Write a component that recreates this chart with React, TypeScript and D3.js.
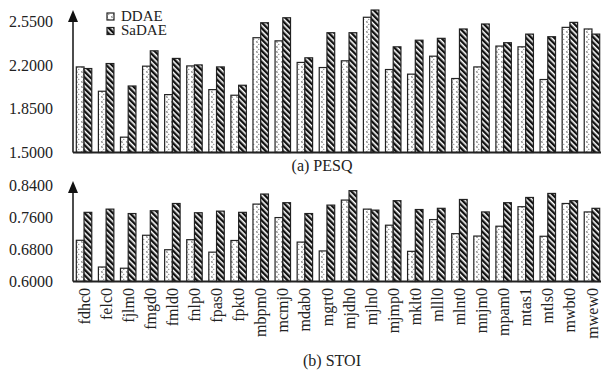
import * as d3 from "d3";

const speakers = [
  "fdhc0", "felc0", "fjlm0", "fmgd0", "fmld0", "fnlp0", "fpas0", "fpkt0",
  "mbpm0", "mcmj0", "mdab0", "mgrt0", "mjdh0", "mjln0", "mjmp0", "mklt0",
  "mlll0", "mlnt0", "mnjm0", "mpam0", "mtas1", "mtls0", "mwbt0", "mwew0",
];
const seriesNames = ["DDAE", "SaDAE"];

const pesqDDAE = [
  2.186, 1.991, 1.623, 2.192, 1.964, 2.194, 2.004, 1.959, 2.42, 2.395, 2.222, 2.181,
  2.235, 2.584, 2.165, 2.128, 2.272, 2.093, 2.186, 2.353, 2.347, 2.085, 2.503, 2.49,
];
const pesqSaDAE = [
  2.173, 2.213, 2.033, 2.315, 2.254, 2.202, 2.186, 2.039, 2.54, 2.58, 2.259, 2.46,
  2.46, 2.642, 2.347, 2.4, 2.415, 2.49, 2.53, 2.38, 2.449, 2.428, 2.543, 2.449,
];
const stoiDDAE = [
  0.7025, 0.636, 0.633, 0.715, 0.679, 0.704, 0.673, 0.702, 0.7925, 0.759, 0.698, 0.676,
  0.8025, 0.78, 0.74, 0.675, 0.754, 0.719, 0.713, 0.7375, 0.786, 0.7125, 0.794, 0.773,
];
const stoiSaDAE = [
  0.772, 0.78, 0.769, 0.776, 0.794, 0.771, 0.775, 0.772, 0.8175, 0.796, 0.769, 0.79,
  0.826, 0.7775, 0.801, 0.779, 0.782, 0.804, 0.773, 0.796, 0.809, 0.819, 0.801, 0.782,
];
const pesqTicks = [1.5, 1.85, 2.2, 2.55];
const stoiTicks = [0.6, 0.68, 0.76, 0.84];

const font = "'Liberation Serif', 'Times New Roman', serif";
const fills = ["url(#dots)", "url(#stripes)"];

const x = d3.scaleBand<string>().domain(speakers).range([73, 603]).paddingInner(0.3).paddingOuter(0.15);
const xs = d3.scaleBand<string>().domain(seriesNames).range([0, x.bandwidth()]);
const fmt = d3.format(".4f");

function Panel({ a, b, ticks, domain, range, arrowTip }: {
  a: number[]; b: number[]; ticks: number[]; domain: [number, number]; range: [number, number]; arrowTip: number;
}) {
  const y = d3.scaleLinear().domain(domain).range(range);
  const base = y(domain[0]);
  const axisX = 73;
  return (
    <g>
      {speakers.map((s, i) =>
        [a[i], b[i]].map((v, j) => (
          <rect key={s + j} x={(x(s) || 0) + (xs(seriesNames[j]) || 0)} y={y(v)}
            width={xs.bandwidth()} height={base - y(v)}
            fill={fills[j]} stroke="#222" strokeWidth={1.2} />
        ))
      )}
      {ticks.map((t) => (
        <text key={t} x={53} y={y(t)} dy="0.35em" textAnchor="end" fontSize={16} fill="#222">{fmt(t)}</text>
      ))}
      <line x1={axisX} x2={axisX} y1={base} y2={arrowTip + 8} stroke="#111" strokeWidth={1.5} />
      <path d={`M${axisX},${arrowTip}L${axisX - 5},${arrowTip + 12}L${axisX + 5},${arrowTip + 12}Z`} fill="#111" />
      <line x1={axisX} x2={601} y1={base} y2={base} stroke="#222" strokeWidth={2.2} />
    </g>
  );
}

export default function App() {
  return (
    <svg width={601} height={372} style={{ position: "absolute", left: 0, top: 0 }} fontFamily={font}>
      <defs>
        <pattern id="stripes" width={4} height={4} patternUnits="userSpaceOnUse" patternTransform="rotate(-45)">
          <rect width={4} height={4} fill="#fff" />
          <rect width={2.4} height={4} fill="#111" />
        </pattern>
        <pattern id="dots" width={5} height={5} patternUnits="userSpaceOnUse">
          <rect width={5} height={5} fill="#fff" />
          <path d="M2.4,0.8 Q0.8,1.8 2.4,3" fill="none" stroke="#333" strokeWidth={0.8} />
          <circle cx={3.8} cy={4.2} r={0.55} fill="#444" />
        </pattern>
      </defs>
      <Panel a={pesqDDAE} b={pesqSaDAE} ticks={pesqTicks} domain={[1.5, 2.55]} range={[152.5, 21.5]} arrowTip={10} />
      <Panel a={stoiDDAE} b={stoiSaDAE} ticks={stoiTicks} domain={[0.6, 0.84]} range={[281.5, 185]} arrowTip={181} />
      {seriesNames.map((n, j) => (
        <g key={n}>
          <rect x={107} y={13 + j * 14.5} width={7} height={7} fill={fills[j]} stroke="#222" strokeWidth={1.2} />
          <text x={121} y={20.5 + j * 14.5} fontSize={15} fill="#222">{n}</text>
        </g>
      ))}
      <text x={322} y={171} textAnchor="middle" fontSize={16} fill="#222">(a) PESQ</text>
      {speakers.map((s) => (
        <text key={s} transform={`translate(${(x(s) || 0) + x.bandwidth() / 2},288) rotate(-90)`}
          dy="0.35em" textAnchor="end" fontSize={16} fill="#222">{s}</text>
      ))}
      <text x={332} y={366} textAnchor="middle" fontSize={16} fill="#222">(b) STOI</text>
    </svg>
  );
}
